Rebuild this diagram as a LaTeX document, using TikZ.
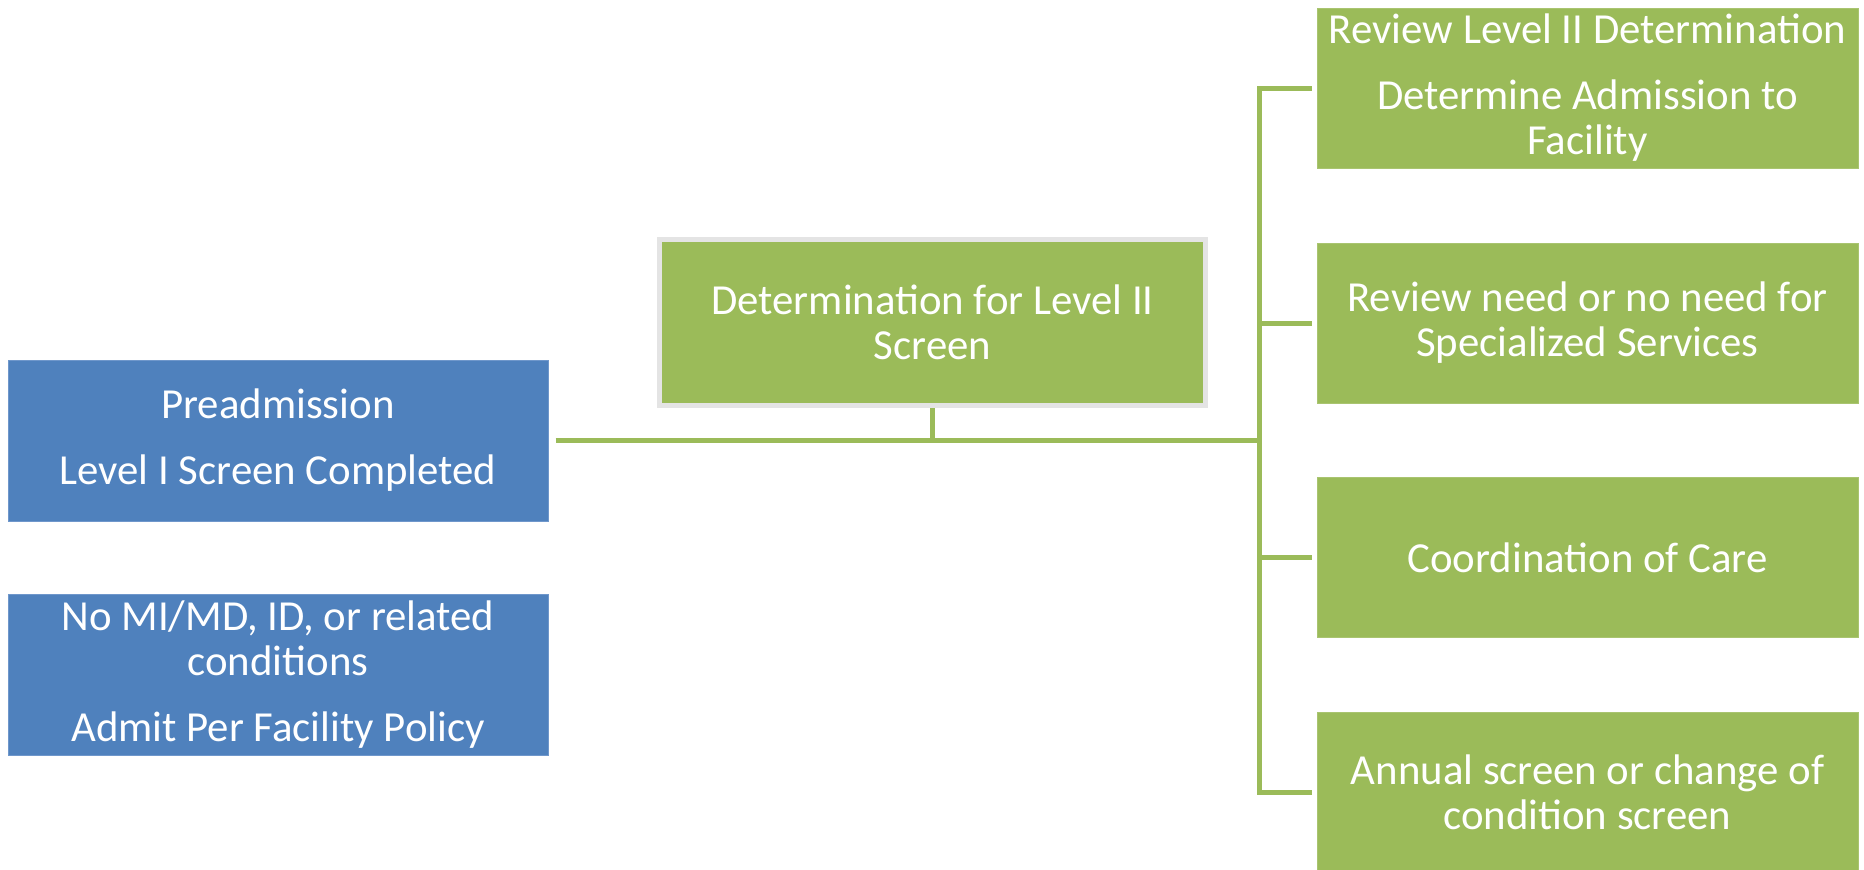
\documentclass[tikz,border=0pt]{standalone}
\usepackage{fontspec}
\setmainfont{Carlito}
\definecolor{gfill}{HTML}{9BBB59}
\definecolor{bfill}{HTML}{4F81BD}
\definecolor{bedge}{HTML}{6F97CB}
\definecolor{gedge}{HTML}{A9C470}
\definecolor{midedge}{HTML}{E4E4E4}
\begin{document}
\begin{tikzpicture}[x=0.5pt,y=-0.5pt,
  txt/.style={text=white, align=center, inner sep=0pt, font=\fontsize{21.4}{22.5}\selectfont},
  bluebox/.style={txt, fill=bfill, draw=bedge, line width=0.5pt, minimum width=270pt, minimum height=80.5pt},
  greenbox/.style={txt, fill=gfill, draw=gedge, line width=0.5pt, minimum width=270.5pt, minimum height=80pt},
  midbox/.style={txt, fill=gfill, draw=midedge, line width=2.5pt, minimum width=273pt, minimum height=83pt},
  conn/.style={draw=gfill, line width=2.5pt}]
\useasboundingbox (0,0) rectangle (1864,869);
\clip (0,0) rectangle (1864,869);

\node[bluebox] (pre) at (278,440.5) {Preadmission\\[10.5pt]Level I Screen Completed};
\node[bluebox] (nomi) at (278,674.5) {No MI/MD, ID, or related\\conditions\\[10.5pt]Admit Per Facility Policy};
\node[midbox] (mid) at (932.5,322.5) {Determination for Level II\\Screen};

\node[greenbox] (r1) at (1587.5,88) {Review Level II Determination\\[10.5pt]Determine Admission to\\Facility};
\node[greenbox] (r2) at (1587.5,323) {Review need or no need for\\Specialized Services};
\node[greenbox] (r3) at (1587.5,557.5) {Coordination of Care};
\node[greenbox] (r4) at (1587.5,792) {Annual screen or change of\\condition screen};

\coordinate (bus) at (1259,440.5);

\draw[conn] ([xshift=3.5pt]pre.east) -- (bus);
\draw[conn] (mid.south) -- (mid.south |- bus);
\draw[conn] ([xshift=-2.5pt]r1.west) -- (bus |- r1.west) -- (bus |- r4.west) -- ([xshift=-2.5pt]r4.west);
\draw[conn] (bus |- r2.west) -- ([xshift=-2.5pt]r2.west);
\draw[conn] (bus |- r3.west) -- ([xshift=-2.5pt]r3.west);
\end{tikzpicture}
\end{document}
